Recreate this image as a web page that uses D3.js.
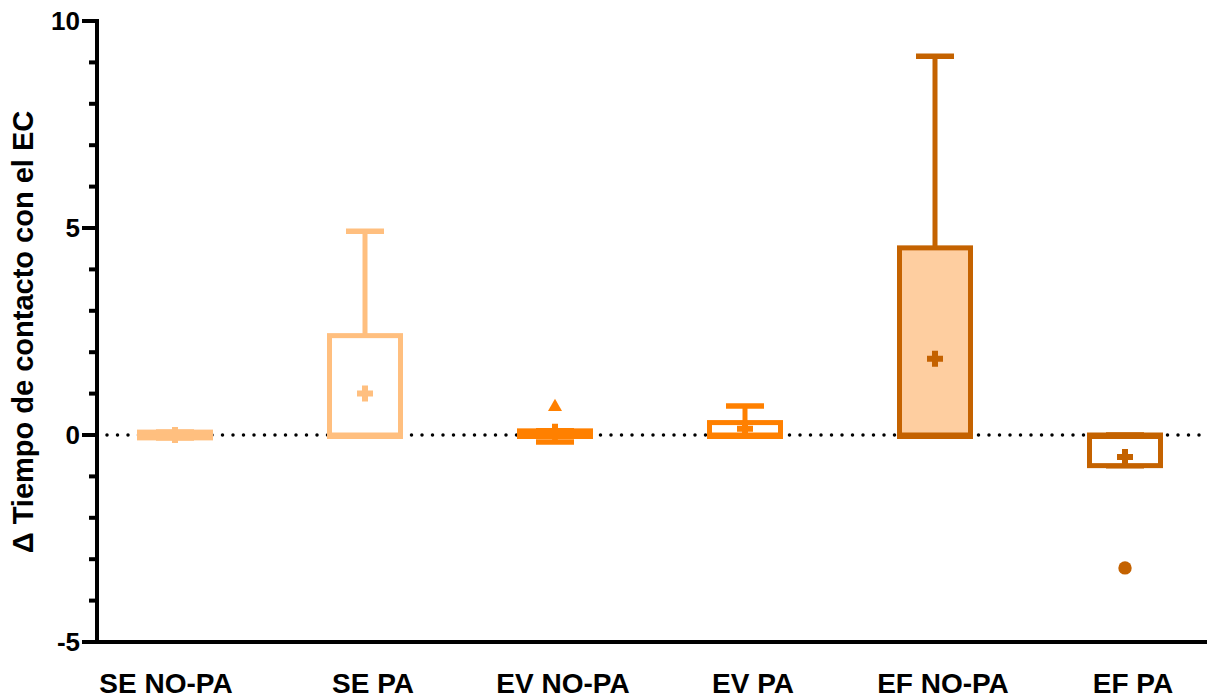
<!DOCTYPE html>
<html lang="es">
  <head>
    <meta charset="UTF-8">
    <title>Tiempo de contacto</title>
    <script src="https://d3js.org/d3.v7.min.js"></script>
    <style>
      body { margin: 0; background: #fff; }
      text { font-family: "Liberation Sans", Arial, sans-serif; font-weight: bold; fill: #000; }
    </style>
  </head>
  <body>
    <script>
      // categories and box statistics
      const groups = ["SE NO-PA", "SE PA", "EV NO-PA", "EV PA", "EF NO-PA", "EF PA"]
      const mins    = [-0.07, 0,    -0.17, 0,    0,    -0.74]
      const q1s     = [-0.07, 0,    -0.02, 0,    0,    -0.74]
      const medians = [0,     0,     0,    0,    0,     0]
      const q3s     = [0.07,  2.4,   0.1,  0.3,  4.52,  0]
      const maxs    = [0.07,  4.92,  0.1,  0.7,  9.15,  0]
      const means   = [0,     1.0,   0.08, 0.15, 1.84, -0.53]
      const outliers = [[], [], [0.68], [], [], [-3.21]]
      const yTicks = [-5, 0, 5, 10]

      const colors = ["#ffbf7f", "#ffbf7f", "#ff8000", "#ff8000", "#c46200", "#c46200"]
      const fills  = ["#ffbf7f", "#ffffff", "#ff8000", "#ffffff", "#fecea0", "#ffffff"]

      const W = 1207, H = 698
      const svg = d3.select("body").append("svg")
        .attr("width", W)
        .attr("height", H)

      const x = d3.scaleBand().domain(groups).range([80, 1220])
      const y = d3.scaleLinear().domain([-5, 10]).range([642, 21])

      const axisX = 97
      const boxW = x.bandwidth() * 0.4
      const capW = boxW / 2

      // zero reference line (dotted)
      svg.append("line")
        .attr("x1", axisX + 10).attr("x2", W)
        .attr("y1", y(0)).attr("y2", y(0))
        .attr("stroke", "#000")
        .attr("stroke-width", 3.5)
        .attr("stroke-linecap", "round")
        .attr("stroke-dasharray", "0 10.5")

      // boxes
      groups.forEach((g, i) => {
        const cx = x(g) + x.bandwidth() / 2
        const c = colors[i]
        const grp = svg.append("g")

        // whiskers
        grp.append("line")
          .attr("x1", cx).attr("x2", cx)
          .attr("y1", y(q3s[i])).attr("y2", y(maxs[i]))
          .attr("stroke", c).attr("stroke-width", 5)
        grp.append("line")
          .attr("x1", cx).attr("x2", cx)
          .attr("y1", y(q1s[i])).attr("y2", y(mins[i]))
          .attr("stroke", c).attr("stroke-width", 5)
        ;[maxs[i], mins[i]].forEach(v => {
          grp.append("line")
            .attr("x1", cx - capW / 2).attr("x2", cx + capW / 2)
            .attr("y1", y(v)).attr("y2", y(v))
            .attr("stroke", c).attr("stroke-width", 5.5)
        })

        // box
        grp.append("rect")
          .attr("x", cx - boxW / 2 + 2.5)
          .attr("width", boxW - 5)
          .attr("y", y(q3s[i]))
          .attr("height", Math.max(0.1, y(q1s[i]) - y(q3s[i])))
          .attr("fill", fills[i])
          .attr("stroke", c)
          .attr("stroke-width", 5)

        // median
        grp.append("line")
          .attr("x1", cx - boxW / 2).attr("x2", cx + boxW / 2)
          .attr("y1", y(medians[i]) + 2).attr("y2", y(medians[i]) + 2)
          .attr("stroke", c).attr("stroke-width", 4)

        // mean (plus sign)
        const my = y(means[i])
        grp.append("path")
          .attr("d", `M${cx - 8},${my - 3}h5v-5h6v5h5v6h-5v5h-6v-5h-5z`)
          .attr("fill", c)

        // outliers
        outliers[i].forEach(v => {
          if (i === 2) {
            grp.append("path")
              .attr("d", d3.symbol(d3.symbolTriangle, 85)())
              .attr("transform", `translate(${cx},${y(v)})`)
              .attr("fill", c)
          } else {
            grp.append("circle")
              .attr("cx", cx).attr("cy", y(v)).attr("r", 6.7)
              .attr("fill", c)
          }
        })
      })

      // y axis with minor ticks
      svg.append("line")
        .attr("x1", axisX).attr("x2", axisX)
        .attr("y1", y(10) - 2).attr("y2", y(-5) + 2)
        .attr("stroke", "#000").attr("stroke-width", 4)
      d3.range(-4, 10).filter(v => v % 5 !== 0).forEach(v => {
        svg.append("line")
          .attr("x1", axisX - 8).attr("x2", axisX)
          .attr("y1", y(v)).attr("y2", y(v))
          .attr("stroke", "#000").attr("stroke-width", 4)
      })
      yTicks.forEach(v => {
        svg.append("line")
          .attr("x1", axisX - 15).attr("x2", axisX)
          .attr("y1", y(v)).attr("y2", y(v))
          .attr("stroke", "#000").attr("stroke-width", 4)
        svg.append("text")
          .attr("x", 80).attr("y", y(v))
          .attr("dy", "0.36em")
          .attr("text-anchor", "end")
          .attr("font-size", 26)
          .text(v)
      })

      // x axis
      svg.append("line")
        .attr("x1", axisX - 15).attr("x2", W)
        .attr("y1", y(-5)).attr("y2", y(-5))
        .attr("stroke", "#000").attr("stroke-width", 4)
      // labels sit a little off the box centres in the original
      svg.selectAll(".xlab").data(groups).enter().append("text")
        .attr("class", "xlab")
        .attr("x", (d, i) => x(d) + x.bandwidth() / 2 + (i === 0 ? -9 : 8))
        .attr("y", 693)
        .attr("text-anchor", "middle")
        .attr("font-size", 28)
        .text(d => d)

      // y title
      svg.append("text")
        .attr("transform", "translate(33,332) rotate(-90)")
        .attr("text-anchor", "middle")
        .attr("font-size", 29)
        .text("Δ Tiempo de contacto con el EC")
    </script>
  </body>
</html>
